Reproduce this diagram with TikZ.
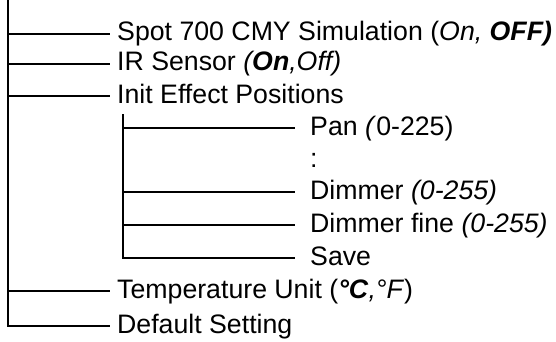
\documentclass[tikz,border=0pt]{standalone}
\usepackage{fontspec}
\setmainfont{Liberation Sans}
\begin{document}
\begin{tikzpicture}[x=1pt,y=-1pt,
  tree/.style={line width=1.8pt},
  lbl/.style={anchor=base west,inner sep=0pt,font=\fontsize{26.7}{30}\selectfont}]
\useasboundingbox (0,0) rectangle (556,342);
% main level
\coordinate (top) at (8,0);
\foreach \n/\y in {j1/34,j2/64,j3/96,j4/291,j5/326}{
  \coordinate (\n) at (8,\y);
  \coordinate (\n e) at (110,\y);
}
\node[lbl] (spot) at (117,41) {Spot 700 CMY Simulation (\textit{On,} \textbf{\textit{OFF)}}};
\node[lbl] (ir) at (117,71) {IR Sensor \textit{(\textbf{On},Off)}};
\node[lbl] (init) at (117,103) {Init Effect Positions};
\node[lbl] (temp) at (117,298) {Temperature Unit (\textbf{\textit{°C}}\textit{,°F})};
\node[lbl] (def) at (117,333) {Default Setting};
\draw[tree] (top) -- (j5) -- (j5e);
\foreach \n in {j1,j2,j3,j4}{ \draw[tree] (\n) -- (\n e); }
% sub level
\coordinate (stop) at (123,114);
\foreach \n/\y in {k1/128,k2/192,k3/225,k4/258}{
  \coordinate (\n) at (123,\y);
  \coordinate (\n e) at (295,\y);
}
\node[lbl] (pan) at (310,135) {Pan \textit{(}0-225)};
\node[lbl] (dots) at (310,167) {:};
\node[lbl] (dim) at (310,199) {Dimmer \textit{(0-255)}};
\node[lbl] (dimf) at (310,232) {Dimmer fine \textit{(0-255)}};
\node[lbl] (save) at (310,265) {Save};
\draw[tree] (stop) -- (k4) -- (k4e);
\foreach \n in {k1,k2,k3}{ \draw[tree] (\n) -- (\n e); }
\end{tikzpicture}
\end{document}
